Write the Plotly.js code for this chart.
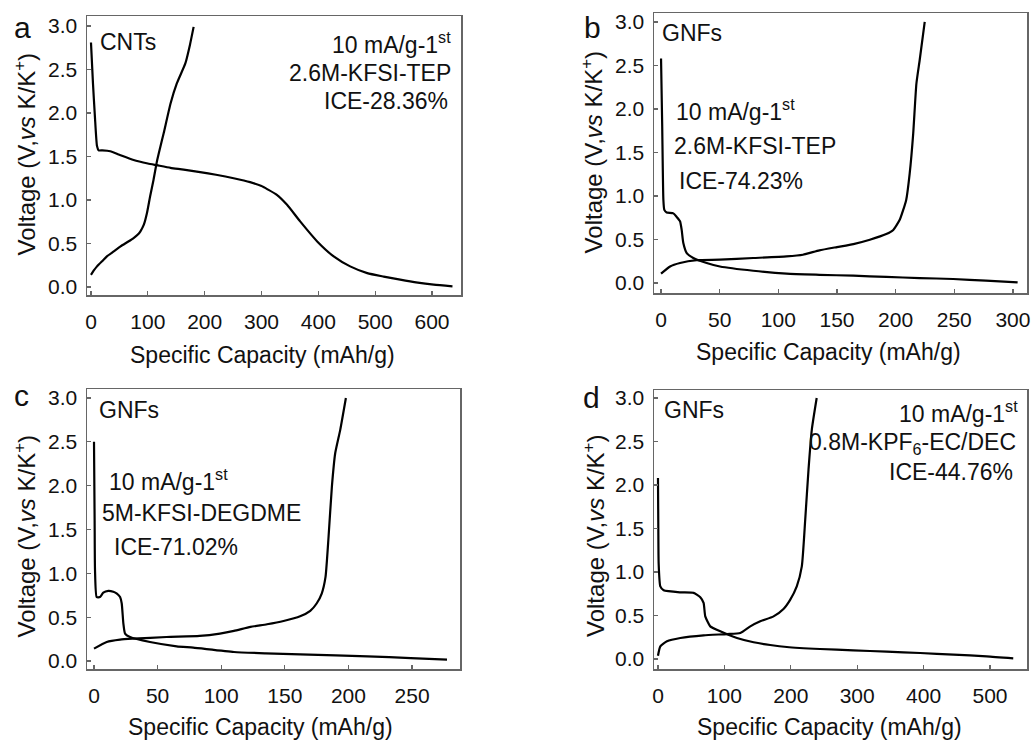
<!DOCTYPE html>
<html><head><meta charset="utf-8">
<script src="https://cdn.plot.ly/plotly-3.0.1.min.js"></script>
<style>body{margin:0;background:#fff}#chart{width:1035px;height:742px}</style>
</head><body><div id="chart"></div>
<script>
// Panel a: CNTs, 2.6M-KFSI-TEP
const aDisX = [0, 3.5, 7, 10.6, 13.5, 20, 34, 50, 75, 100, 116, 140, 163, 192, 220, 251, 280, 300, 310, 327, 345, 368, 398, 427, 456, 486, 515, 544, 575, 603, 636];
const aDisY = [2.81, 2.34, 1.95, 1.62, 1.57, 1.57, 1.56, 1.52, 1.46, 1.42, 1.40, 1.37, 1.35, 1.32, 1.29, 1.25, 1.205, 1.16, 1.125, 1.06, 0.945, 0.754, 0.524, 0.352, 0.237, 0.16, 0.12, 0.084, 0.05, 0.027, 0.008];
const aChgX = [0, 5, 10.6, 20, 28, 40, 52, 65, 75, 82, 87, 93, 98.5, 104, 110, 116, 122, 128, 140, 151, 166, 174, 180.6];
const aChgY = [0.14, 0.19, 0.237, 0.30, 0.352, 0.41, 0.467, 0.52, 0.563, 0.60, 0.64, 0.716, 0.85, 1.04, 1.23, 1.443, 1.61, 1.77, 2.11, 2.34, 2.57, 2.78, 2.99];
// Panel b: GNFs, 2.6M-KFSI-TEP
const bDisX = [0, 1, 2, 2.8, 4.8, 10.5, 13.3, 16.2, 17.6, 19, 21.9, 27.5, 38.9, 50.2, 78.6, 107, 135, 164, 192, 220.5, 249, 277, 304];
const bDisY = [2.58, 1.8, 0.955, 0.84, 0.81, 0.80, 0.76, 0.71, 0.61, 0.46, 0.344, 0.287, 0.229, 0.19, 0.141, 0.107, 0.094, 0.084, 0.07, 0.057, 0.046, 0.027, 0.008];
const bChgX = [0, 7.7, 16.2, 30.4, 50.2, 78.6, 107, 121, 135, 150, 164, 178, 192, 198, 203.5, 209, 212, 215, 217.7, 220.5, 224.8];
const bChgY = [0.107, 0.19, 0.23, 0.262, 0.268, 0.287, 0.306, 0.325, 0.375, 0.413, 0.447, 0.497, 0.562, 0.61, 0.726, 0.955, 1.26, 1.72, 2.29, 2.56, 3.0];
// Panel c: GNFs, 5M-KFSI-DEGDME
const cDisX = [0, 0.5, 0.8, 2.1, 4.7, 7.3, 11.3, 15.2, 18, 20.5, 21.8, 23.1, 24.4, 28.3, 44, 65, 78, 110, 135, 162, 190, 215, 249, 277.5];
const cDisY = [2.50, 1.6, 1.04, 0.73, 0.73, 0.78, 0.80, 0.79, 0.77, 0.73, 0.656, 0.427, 0.313, 0.274, 0.217, 0.168, 0.152, 0.103, 0.088, 0.076, 0.064, 0.053, 0.034, 0.015];
const cChgX = [0, 10, 20.5, 31, 57, 83, 99, 110, 123, 136, 149, 162, 170, 175, 179, 182, 184.4, 187, 189.6, 193.6, 198];
const cChgY = [0.141, 0.217, 0.244, 0.255, 0.274, 0.286, 0.313, 0.343, 0.389, 0.419, 0.457, 0.51, 0.572, 0.656, 0.77, 0.96, 1.42, 1.99, 2.37, 2.64, 3.0];
// Panel d: GNFs, 0.8M-KPF6-EC/DEC
const dDisX = [0, 0.5, 1, 3.5, 8.5, 33.6, 53.7, 63.7, 68.7, 71.2, 78.7, 93.8, 118.9, 144, 169, 194, 244, 294, 344.5, 394.7, 445, 495, 535];
const dDisY = [2.08, 1.5, 1.10, 0.835, 0.79, 0.766, 0.76, 0.71, 0.645, 0.49, 0.375, 0.318, 0.241, 0.192, 0.161, 0.138, 0.115, 0.10, 0.084, 0.069, 0.05, 0.031, 0.008];
const dChgX = [0, 3.5, 13.5, 33.6, 68.7, 104, 124, 139, 154, 174, 189, 199, 209, 216.6, 221.7, 226.7, 231.7, 239];
const dChgY = [0.038, 0.146, 0.203, 0.241, 0.272, 0.287, 0.299, 0.375, 0.433, 0.49, 0.575, 0.68, 0.835, 1.065, 1.60, 2.18, 2.64, 3.0];

const panelLetters = ['a', 'b', 'c', 'd'];
const materials = ['CNTs', 'GNFs', 'GNFs', 'GNFs'];
const rateLabel = '10 mA/g-1<sup>st</sup>';
const electrolytes = ['2.6M-KFSI-TEP', '2.6M-KFSI-TEP', '5M-KFSI-DEGDME', '0.8M-KPF<sub>6</sub>-EC/DEC'];
const ices = ['ICE-28.36%', 'ICE-74.23%', 'ICE-71.02%', 'ICE-44.76%'];
const xTitle = 'Specific Capacity (mAh/g)';
const yTitle = 'Voltage (V,<i>vs</i> K/K<sup>+</sup>)';

const W = 1035, H = 742;
const FONT = 'Liberation Sans, Arial, sans-serif';
const px = x => x / W;
const py = y => 1 - y / H;

const series = [
  [aDisX, aDisY, aChgX, aChgY],
  [bDisX, bDisY, bChgX, bChgY],
  [cDisX, cDisY, cChgX, cChgY],
  [dDisX, dDisY, dChgX, dChgY]
];
const traces = [];
series.forEach((s, i) => {
  const xa = i === 0 ? 'x' : 'x' + (i + 1);
  const ya = i === 0 ? 'y' : 'y' + (i + 1);
  const ln = {color: '#000', width: 2.2, shape: 'spline', smoothing: 0.5};
  traces.push({x: s[0], y: s[1], xaxis: xa, yaxis: ya, mode: 'lines', line: ln, hoverinfo: 'skip'});
  traces.push({x: s[2], y: s[3], xaxis: xa, yaxis: ya, mode: 'lines', line: ln, hoverinfo: 'skip'});
});

// plot boxes in pixels [left, right, top, bottom]
const boxes = [[87, 461, 16, 295], [654, 1027, 13, 293], [87, 460, 389, 669], [654, 1027, 390, 669]];
const xRanges = [[-7, 651], [-6, 312], [-5.5, 287.7], [-6, 555.7]];
const yRanges = [[-0.092, 3.115], [-0.115, 3.103], [-0.091, 3.103], [-0.115, 3.092]];
const xDticks = [100, 50, 50, 100];

const layout = {
  width: W, height: H,
  margin: {l: 0, r: 0, t: 0, b: 0},
  paper_bgcolor: '#fff', plot_bgcolor: '#fff',
  showlegend: false,
  font: {family: FONT, color: '#000', size: 21},
  annotations: []
};
boxes.forEach((b, i) => {
  const sfx = i === 0 ? '' : String(i + 1);
  const common = {
    showgrid: false, zeroline: false, showline: true, mirror: true,
    linecolor: '#666', linewidth: 1.5,
    ticks: 'inside', ticklen: 4, tickwidth: 1.2, tickcolor: '#666',
    tickfont: {family: FONT, size: 21, color: '#111'}
  };
  layout['xaxis' + sfx] = Object.assign({}, common, {
    domain: [px(b[0]), px(b[1])], range: xRanges[i], anchor: 'y' + sfx,
    tick0: 0, dtick: xDticks[i], ticklabelstandoff: 7
  });
  layout['yaxis' + sfx] = Object.assign({}, common, {
    domain: [py(b[3]), py(b[2])], range: yRanges[i], anchor: 'x' + sfx,
    tick0: 0, dtick: 0.5, tickformat: '.1f', ticklabelstandoff: 4
  });
});

function ann(text, x, y, xanchor, size, extra) {
  layout.annotations.push(Object.assign({
    text: text, xref: 'paper', yref: 'paper', x: px(x), y: py(y),
    xanchor: xanchor, yanchor: 'middle', showarrow: false,
    font: {family: FONT, size: size, color: '#111'}
  }, extra || {}));
}

// panel letters
const letterPos = [[12, 27.5], [582, 27.5], [12, 395.5], [581, 397.5]];
panelLetters.forEach((t, i) => ann(t, letterPos[i][0], letterPos[i][1], 'left', 30));
// material labels
const matPos = [[98, 42], [660, 33], [97, 410], [662, 410]];
materials.forEach((t, i) => ann(t, matPos[i][0], matPos[i][1], 'left', 23));
// condition text lines
const condAnchor = ['right', 'left', 'left', 'right'];
const condX = [[453, 453, 450], [674, 672, 677], [107, 100, 112], [1020, 1018, 1015]];
const condY = [[43, 73, 101], [110, 146, 181], [480, 513, 547], [412, 443, 472]];
for (let i = 0; i < 4; i++) {
  const lines = [rateLabel, electrolytes[i], ices[i]];
  lines.forEach((t, j) => ann(t, condX[i][j], condY[i][j], condAnchor[i], 23));
}
// axis titles
const xTitlePos = [[262, 355], [828, 352], [260, 727], [829, 727]];
const yTitlePos = [[25.4, 154], [592.4, 152], [25.4, 536], [594, 536]];
for (let i = 0; i < 4; i++) {
  ann(xTitle, xTitlePos[i][0], xTitlePos[i][1], 'center', 23);
  ann(yTitle, yTitlePos[i][0], yTitlePos[i][1], 'center', 24, {textangle: -90});
}

Plotly.newPlot('chart', traces, layout, {staticPlot: true, displayModeBar: false});
</script>
</body></html>
